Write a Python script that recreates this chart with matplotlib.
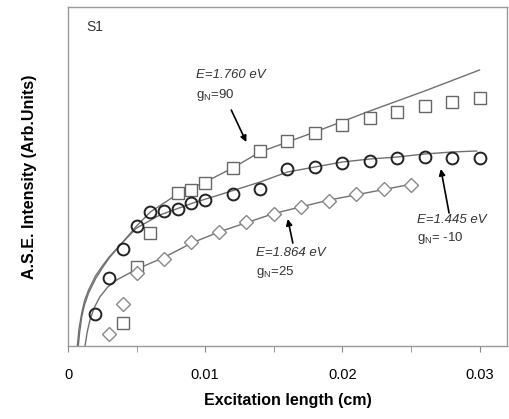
import numpy as np
import matplotlib.pyplot as plt

plt.rcParams['font.family'] = ['Liberation Sans', 'DejaVu Sans']
plt.rcParams['mathtext.fontset'] = 'custom'
plt.rcParams['mathtext.rm'] = 'Liberation Sans'
plt.rcParams['mathtext.it'] = 'Liberation Sans:italic'

# measured points (arbitrary intensity units)
sq_x = [0.004, 0.005, 0.006, 0.008, 0.009, 0.010, 0.012, 0.014, 0.016, 0.018,
        0.020, 0.022, 0.024, 0.026, 0.028, 0.030]
sq_y = [22.7, 79.3, 113.3, 153, 156.5, 163, 177.7, 195.3, 205.3, 213.3,
        220.7, 228.3, 234, 240, 244.3, 247.7]

ci_x = [0.002, 0.003, 0.004, 0.005, 0.006, 0.007, 0.008, 0.009, 0.010, 0.012,
        0.014, 0.016, 0.018, 0.020, 0.022, 0.024, 0.026, 0.028, 0.030]
ci_y = [31.7, 67.7, 96.7, 120.3, 133.7, 135, 136.7, 142.7, 146, 152.5,
        157, 176.7, 178.7, 182.7, 185.3, 187.7, 188.7, 187.7, 187.7]

di_x = [0.003, 0.004, 0.005, 0.007, 0.009, 0.011, 0.013, 0.015, 0.017, 0.019,
        0.021, 0.023, 0.025]
di_y = [11.7, 42, 72.7, 87, 103.7, 113.7, 124.3, 132, 138.7, 145.3,
        152, 156.7, 161]

# fitted curves
fit_sq_x = [0.00068, 0.0008, 0.001, 0.0012, 0.0015, 0.002, 0.0025, 0.003, 0.004,
            0.005, 0.006, 0.008, 0.010, 0.012, 0.014, 0.018, 0.022, 0.026, 0.030]
fit_sq_y = [0, 17, 33, 45, 56, 70, 80, 89, 104, 120, 134, 152, 164, 178, 194,
            214, 235, 255, 276]

fit_ci_x = [0.00075, 0.00085, 0.001, 0.0012, 0.0015, 0.002, 0.0025, 0.003, 0.004,
            0.005, 0.0067, 0.0091, 0.011, 0.014, 0.016, 0.018, 0.020, 0.022,
            0.024, 0.026, 0.028, 0.0298]
fit_ci_y = [0, 14, 29, 41, 53, 67, 78, 88, 104, 118, 131, 143, 151, 164, 174,
            179, 184, 187, 189, 192, 194, 195]

fit_di_x = [0.00124, 0.0014, 0.0016, 0.0019, 0.00233, 0.0029, 0.00354, 0.00504,
            0.00705, 0.00907, 0.01105, 0.01505, 0.01905, 0.0251]
fit_di_y = [0, 14, 26, 38, 49.3, 59, 66, 77, 89, 103.3, 114.3, 132.7, 146, 162]

xticks = [0, 0.01, 0.02, 0.03]
xticklabels = ['0', '0.01', '0.02', '0.03']

fig = plt.figure(figsize=(5.09, 4.19), dpi=100)
ax = fig.add_axes([0.1336, 0.1742, 0.8624, 0.8091])

line_c = '#707070'
ax.plot(fit_sq_x, fit_sq_y, color=line_c, lw=1)
ax.plot(fit_ci_x, fit_ci_y, color=line_c, lw=1)
ax.plot(fit_di_x, fit_di_y, color=line_c, lw=1)

ax.plot(sq_x, sq_y, 's', ms=8.5, mfc='white', mec='#666666', mew=1.0, ls='none')
ax.plot(ci_x, ci_y, 'o', ms=8.5, mfc='none', mec='#222222', mew=1.4, ls='none')
ax.plot(di_x, di_y, 'D', ms=7, mfc='white', mec='#888888', mew=1.0, ls='none')

ax.set_xlim(0, 0.032)
ax.set_ylim(0, 339)
ax.set_xticks(xticks)
ax.set_xticklabels(xticklabels, fontsize=10.5)
ax.set_xticks([0.005, 0.015, 0.025], minor=True)
ax.set_yticks([])
ax.tick_params(axis='x', which='both', direction='out', length=4, color='#888888', pad=12)
for s in ax.spines.values():
    s.set_color('#999999')
    s.set_linewidth(1)

ax.set_xlabel('Excitation length (cm)', fontsize=11.5, fontweight='bold', labelpad=8)
ax.set_ylabel('A.S.E. Intensity (Arb.Units)', fontsize=11.5, fontweight='bold', labelpad=22)

ax.text(0.041, 0.942, 'S1', transform=ax.transAxes, fontsize=10, va='center', color='#333333')

tc = '#333333'
ap = dict(arrowstyle='-|>', color='k', lw=1.2, mutation_scale=9, shrinkA=0, shrinkB=0)
ax.text(0.00931, 271, 'E=1.760 eV', fontsize=9.5, style='italic', va='center', color=tc)
ax.text(0.00931, 251, r'g$_\mathregular{N}$=90', fontsize=9.5, va='center', color=tc)
ax.annotate('', xy=(0.0130, 204), xytext=(0.0119, 236), arrowprops=ap)

ax.text(0.02545, 126, 'E=1.445 eV', fontsize=9.5, style='italic', va='center', color=tc)
ax.text(0.02545, 108, r'g$_\mathregular{N}$= -10', fontsize=9.5, va='center', color=tc)
ax.annotate('', xy=(0.02718, 177), xytext=(0.02778, 133), arrowprops=ap)

ax.text(0.01372, 93, 'E=1.864 eV', fontsize=9.5, style='italic', va='center', color=tc)
ax.text(0.01372, 74, r'g$_\mathregular{N}$=25', fontsize=9.5, va='center', color=tc)
ax.annotate('', xy=(0.01602, 127), xytext=(0.01639, 103), arrowprops=ap)

plt.savefig('out.png', dpi=100)
